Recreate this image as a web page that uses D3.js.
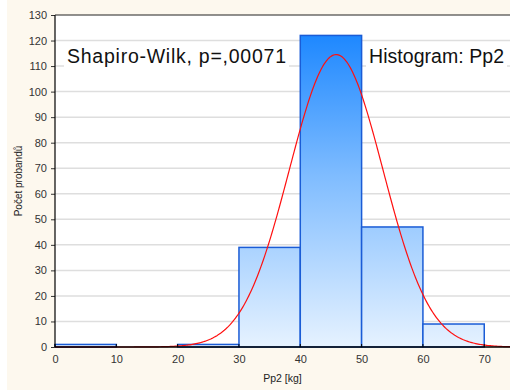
<!DOCTYPE html>
<html>
<head>
<meta charset="utf-8">
<script src="https://cdn.jsdelivr.net/npm/d3@7"></script>
<style>
  html, body { margin: 0; padding: 0; background: #ffffff; }
  svg { display: block; font-family: "Liberation Sans", Arial, sans-serif; }
</style>
</head>
<body>
<svg id="chart" width="510" height="390"></svg>
<script>
// Histogram bins of Pp2 [kg] and their counts
const binStarts = [0, 10, 20, 30, 40, 50, 60];
const binWidth = 10;
const counts = [1, 0, 1, 39, 122, 47, 9];

// Axis ticks
const xTicks = [0, 10, 20, 30, 40, 50, 60, 70];
const yTicks = [0, 10, 20, 30, 40, 50, 60, 70, 80, 90, 100, 110, 120, 130];

// Fitted normal curve parameters (mean, standard deviation, sample size)
const fitMean = 45.85;
const fitSd = 7.63;
const sampleSize = 219;

const testLabel = "Shapiro-Wilk, p=,00071";
const titleLabel = "Histogram: Pp2";
const xTitle = "Pp2 [kg]";
const yTitle = "Počet probandů";

const W = 510, H = 390;
const m = { left: 55, right: 0, top: 15, bottom: 43 };

const svg = d3.select("#chart");

// page background
svg.append("rect").attr("x", 0).attr("y", 0).attr("width", W).attr("height", H).attr("fill", "#ffffff");
svg.append("rect").attr("x", 7).attr("y", 0).attr("width", W - 7).attr("height", H).attr("fill", "#fdf8ee");

const x = d3.scaleLinear().domain([0, 74.2]).range([m.left, W - m.right]);
const y = d3.scaleLinear().domain([0, 130]).range([H - m.bottom, m.top]);

// plot area
svg.append("rect")
  .attr("x", x(0)).attr("y", y(130))
  .attr("width", x(74.2) - x(0)).attr("height", y(0) - y(130))
  .attr("fill", "#ffffff");

// horizontal grid
svg.append("g").selectAll("line").data(yTicks.filter(d => d > 0 && d < 130)).join("line")
  .attr("x1", x(0)).attr("x2", x(74.2))
  .attr("y1", d => y(d)).attr("y2", d => y(d))
  .attr("stroke", "#dedede").attr("stroke-width", 1.5);

// vertical gradient for bars, anchored to the plot coordinates
const defs = svg.append("defs");
const grad = defs.append("linearGradient")
  .attr("id", "barFill").attr("gradientUnits", "userSpaceOnUse")
  .attr("x1", 0).attr("x2", 0).attr("y1", y(122)).attr("y2", y(0));
grad.append("stop").attr("offset", "0%").attr("stop-color", "#1e88ff");
grad.append("stop").attr("offset", "45%").attr("stop-color", "#7fbcff");
grad.append("stop").attr("offset", "100%").attr("stop-color", "#e6f2ff");

const bins = binStarts.map((s, i) => ({ x0: s, x1: s + binWidth, n: counts[i] }));

svg.append("g").selectAll("rect").data(bins.filter(d => d.n > 0)).join("rect")
  .attr("x", d => x(d.x0)).attr("width", d => x(d.x1) - x(d.x0))
  .attr("y", d => y(d.n)).attr("height", d => y(0) - y(d.n))
  .attr("fill", "url(#barFill)")
  .attr("stroke", "#1a5cd6").attr("stroke-width", 1.5);

// fitted normal curve scaled to counts per bin
const normalCount = v => sampleSize * binWidth / (fitSd * Math.sqrt(2 * Math.PI)) *
  Math.exp(-0.5 * Math.pow((v - fitMean) / fitSd, 2));
const curveXs = d3.range(0, 74.2 + 0.001, 0.2);
svg.append("path")
  .datum(curveXs)
  .attr("d", d3.line().x(v => x(v)).y(v => y(normalCount(v))))
  .attr("fill", "none").attr("stroke", "#ff1010").attr("stroke-width", 1.2);

// text boxes inside the plot
function labelBox(tx, ty, txt, len) {
  const g = svg.append("g");
  const t = g.append("text").attr("x", tx).attr("y", ty)
    .attr("font-size", 19.5).attr("fill", "#111")
    .attr("textLength", len).attr("lengthAdjust", "spacing").text(txt);
  const bb = t.node().getBBox();
  g.insert("rect", "text")
    .attr("x", bb.x - 3).attr("y", bb.y + 1).attr("width", bb.width + 6).attr("height", bb.height - 1)
    .attr("fill", "#ffffff");
}
labelBox(67, 63, testLabel, 219);
labelBox(369, 63, titleLabel, 135);

// axes
const xAxis = d3.axisBottom(x).tickValues(xTicks).tickSize(0).tickPadding(8);
const gx = svg.append("g").attr("transform", `translate(0,${y(0)})`).call(xAxis);
gx.select(".domain").remove();
gx.selectAll("text").attr("font-size", 11).attr("fill", "#333").attr("font-family", "Liberation Sans, Arial, sans-serif");
svg.append("line").attr("x1", x(0)).attr("x2", W).attr("y1", y(0)).attr("y2", y(0))
  .attr("stroke", "#000").attr("stroke-width", 1.5);
// small tick marks along the baseline
svg.append("g").selectAll("line").data(xTicks).join("line")
  .attr("x1", d => x(d)).attr("x2", d => x(d)).attr("y1", y(0) - 3).attr("y2", y(0))
  .attr("stroke", "#000");

const yAxis = d3.axisLeft(y).tickValues(yTicks).tickSize(4).tickPadding(4);
const gy = svg.append("g").attr("transform", `translate(${x(0)},0)`).call(yAxis);
gy.select(".domain").remove();
gy.selectAll("line").attr("stroke", "#333");
gy.selectAll("text").attr("font-size", 11).attr("fill", "#333").attr("font-family", "Liberation Sans, Arial, sans-serif");
svg.append("line").attr("x1", x(0)).attr("x2", x(0)).attr("y1", y(130)).attr("y2", y(0))
  .attr("stroke", "#000").attr("stroke-width", 1.2);
svg.append("line").attr("x1", x(0)).attr("x2", W).attr("y1", y(130)).attr("y2", y(130))
  .attr("stroke", "#222").attr("stroke-width", 1);

// axis titles
svg.append("text").attr("x", (x(0) + W) / 2).attr("y", 382)
  .attr("text-anchor", "middle").attr("font-size", 10.5).attr("fill", "#222").text(xTitle);
svg.append("text")
  .attr("transform", `translate(22,${(y(0) + y(130)) / 2}) rotate(-90)`)
  .attr("text-anchor", "middle").attr("font-size", 10).attr("fill", "#222").text(yTitle);
</script>
</body>
</html>
